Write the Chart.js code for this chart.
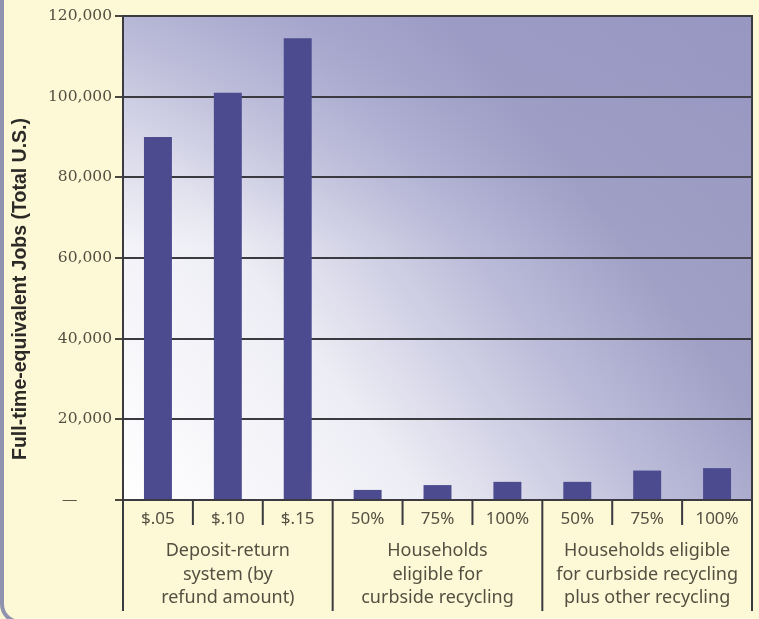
<!DOCTYPE html>
<html>
<head>
<meta charset="utf-8">
<script src="https://cdn.jsdelivr.net/npm/chart.js@4/dist/chart.umd.min.js"></script>
<style>
    html, body { margin: 0; padding: 0; background: #fdf8d6; overflow: hidden; }
    #frame {
        position: absolute; left: 0; top: -30px; width: 800px; height: 654px;
        border: 4px solid #8f93ae; border-radius: 20px; box-sizing: border-box;
        background: #fdf8d6;
    }
    #wrap { position: absolute; left: 0; top: 0; width: 759px; height: 619px; }
</style>
</head>
<body>
<div id="frame"></div>
<div id="wrap"><canvas id="chart" width="759" height="619"></canvas></div>
<script>
/***********************
 * DATA
 ***********************/
const tickLabels = ["$.05", "$.10", "$.15", "50%", "75%", "100%", "50%", "75%", "100%"];
const jobs = [90000, 101000, 114500, 2500, 3700, 4500, 4500, 7300, 7900];
const groupLabels = [
    ["Deposit-return", "system (by", "refund amount)"],
    ["Households", "eligible for", "curbside recycling"],
    ["Households eligible", "for curbside recycling", "plus other recycling"]
];
const groupSize = 3;
const yTitle = "Full-time-equivalent Jobs (Total U.S.)";

const TEXT = "#554f42";
const LINE = "#3b3a40";
const SANS = "'Noto Sans', 'Open Sans', sans-serif";
const SERIF = "'DejaVu Serif', serif";

/***********************
 * PLUGINS
 ***********************/
const backdrop = {
    id: "backdrop",
    beforeDraw(chart) {
        const { ctx, chartArea: a } = chart;
        const w = a.right - a.left, h = a.bottom - a.top;

        // diagonal wash: white at lower left, lavender at upper right
        const g = ctx.createLinearGradient(a.left, a.bottom, a.right, a.top);
        g.addColorStop(0, "#ffffff");
        g.addColorStop(0.3, "#ededf5");
        g.addColorStop(0.55, "#b9b9d8");
        g.addColorStop(0.7, "#a0a0c6");
        g.addColorStop(1, "#9898c0");

        // darker band along the top
        const v = ctx.createLinearGradient(0, a.top, 0, a.top + 230);
        v.addColorStop(0, "rgba(150,150,196,0.55)");
        v.addColorStop(1, "rgba(150,150,196,0)");

        ctx.save();
        ctx.fillStyle = g;
        ctx.fillRect(a.left, a.top, w, h);
        ctx.fillStyle = v;
        ctx.fillRect(a.left, a.top, w, h);
        ctx.restore();
    }
};

const groups = {
    id: "groups",
    afterDraw(chart) {
        const { ctx, chartArea: a } = chart;
        const x = chart.scales.x;
        const n = tickLabels.length;
        const bottom = 611;

        ctx.save();
        ctx.strokeStyle = LINE;
        ctx.lineWidth = 2;

        // separators between tick labels, long ones between groups
        for (let i = 0; i <= n; i++) {
            let px;
            if (i === 0) px = a.left;
            else if (i === n) px = a.right;
            else px = (x.getPixelForTick(i - 1) + x.getPixelForTick(i)) / 2;
            const isGroup = i % groupSize === 0;
            ctx.beginPath();
            ctx.moveTo(px, isGroup && i === n ? a.top - 1 : a.bottom);
            ctx.lineTo(px, isGroup ? bottom : a.bottom + 25);
            ctx.stroke();
        }

        // group captions
        ctx.fillStyle = TEXT;
        ctx.font = "18px " + SANS;
        ctx.textAlign = "center";
        ctx.textBaseline = "middle";
        groupLabels.forEach((lines, gi) => {
            const cx = x.getPixelForTick(gi * groupSize + 1);
            lines.forEach((t, li) => ctx.fillText(t, cx, 551 + li * 23.5));
        });

        // rotated axis title
        ctx.translate(21, 289);
        ctx.rotate(-Math.PI / 2);
        ctx.font = "bold 19.5px 'Liberation Sans Narrow', 'Liberation Sans', sans-serif";
        ctx.fillStyle = "#2c2a27";
        ctx.fillText(yTitle, 0, 0);
        ctx.restore();
    }
};

/***********************
 * CHART
 ***********************/
new Chart(document.getElementById("chart"), {
    type: "bar",
    data: {
        labels: tickLabels,
        datasets: [{
            data: jobs,
            backgroundColor: "#4c4b90",
            borderWidth: 0,
            categoryPercentage: 1,
            barPercentage: 0.4
        }]
    },
    options: {
        responsive: false,
        animation: false,
        devicePixelRatio: 1,
        layout: { padding: { top: 16, right: 7, left: 0, bottom: 0 } },
        plugins: { legend: { display: false }, tooltip: { enabled: false } },
        scales: {
            x: {
                grid: { display: false, drawTicks: false },
                border: { display: true, color: LINE, width: 2 },
                ticks: { color: TEXT, font: { family: SANS, size: 17 }, padding: 9, maxRotation: 0 },
                afterFit: s => { s.height = 119; }
            },
            y: {
                min: 0,
                max: 120000,
                grid: { color: LINE, lineWidth: 2, tickLength: 8, tickColor: "#4a4640" },
                border: { display: true, color: LINE, width: 2 },
                ticks: {
                    stepSize: 20000,
                    color: TEXT,
                    padding: 3,
                    font: { family: SERIF, size: 15.5 },
                    callback: v => v === 0 ? "\u2014       " : v.toLocaleString("en-US")
                },
                afterFit: s => { s.width = 123; }
            }
        }
    },
    plugins: [backdrop, groups]
});
</script>
</body>
</html>
